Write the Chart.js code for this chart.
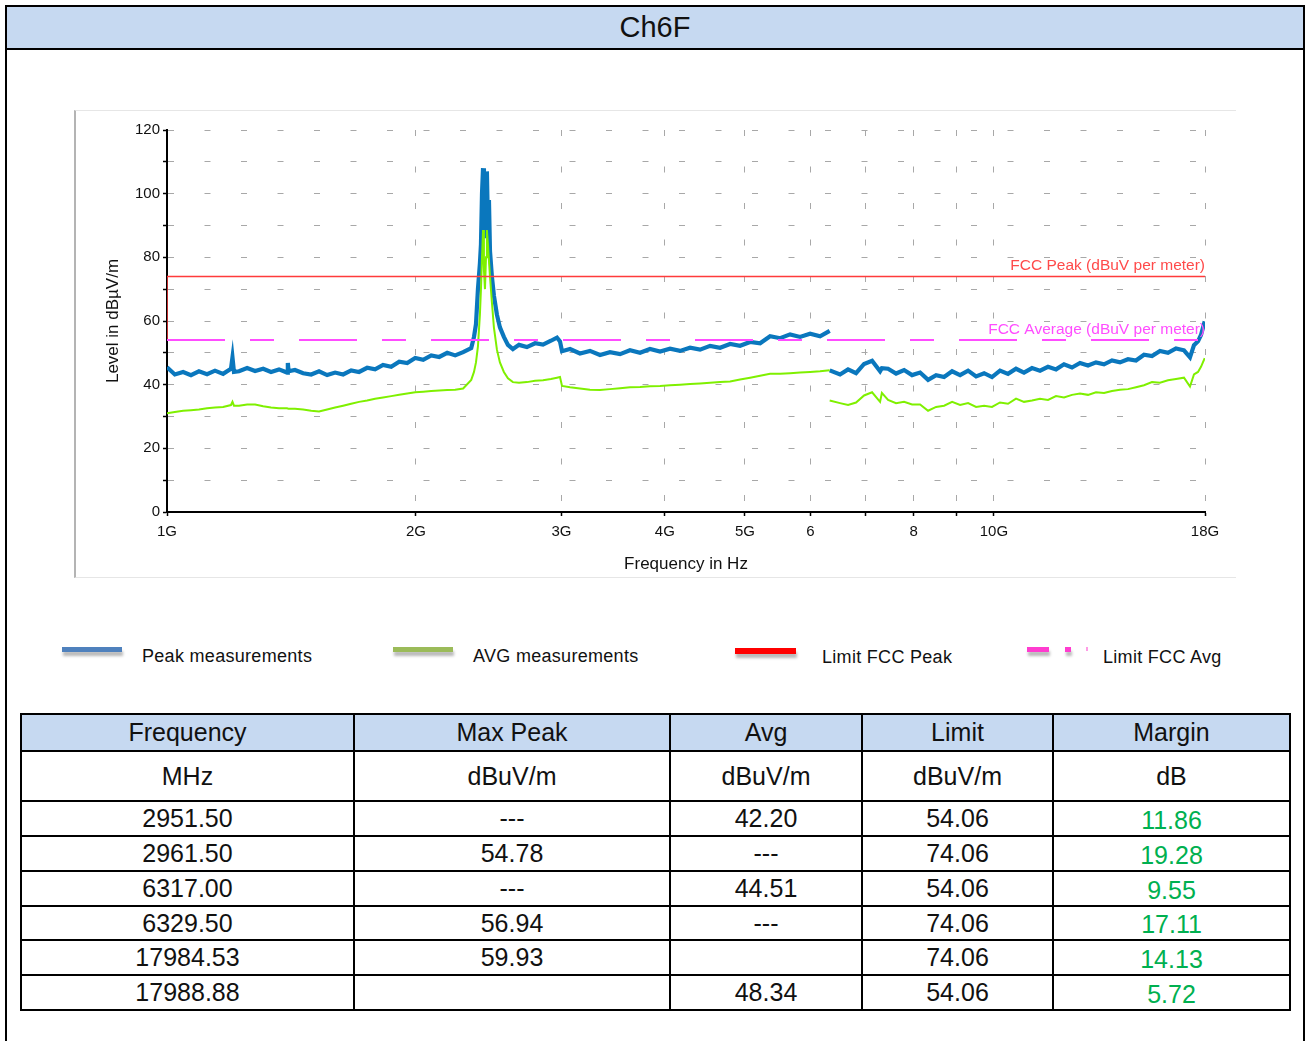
<!DOCTYPE html>
<html>
<head>
<meta charset="utf-8">
<script src="https://cdn.jsdelivr.net/npm/chart.js@4.4.1/dist/chart.umd.min.js"></script>
<style>
body { margin:0; background:#fff; font-family:'Liberation Sans', Arial, sans-serif; color:#111; }
.frame { position:absolute; left:5px; top:5px; width:1296px; height:1100px; border:2px solid #000; border-bottom:none; }
.title { position:absolute; left:7px; top:7px; width:1296px; height:41px; background:#c6d9f1; border-bottom:2px solid #000; text-align:center; font-size:29px; line-height:41px; }
.panel { position:absolute; left:74px; top:110px; width:1160px; height:466px; border-left:2px solid #b4b4b4; border-top:1px solid #e6e6e6; border-bottom:1px solid #e6e6e6; }
#chart { position:absolute; left:74px; top:110px; }
.lg-line { position:absolute; height:5px; box-shadow:1px 4px 3px rgba(0,0,0,0.28); }
.lg-text { position:absolute; font-size:18px; letter-spacing:0.3px; line-height:20px; white-space:nowrap; color:#111; }
table { position:absolute; left:20px; top:713px; border-collapse:collapse; table-layout:fixed; width:1269px; font-size:25px; }
td { border:2px solid #000; text-align:center; padding:0; }
tr.head td { background:#c6d9f1; }
td.margin { color:#00b050; padding-top:3px; }
</style>
</head>
<body>
<div class="frame"></div>
<div class="title">Ch6F</div>
<div class="panel"></div>
<canvas id="chart" width="1162" height="468"></canvas>

<div class="lg-line" style="left:62px;top:647px;width:60px;background:#4f81bd;"></div>
<div class="lg-text" id="lg0" style="left:142px;top:646px;"></div>
<div class="lg-line" style="left:393px;top:647px;width:60px;background:#9bbb59;"></div>
<div class="lg-text" id="lg1" style="left:473px;top:646px;"></div>
<div class="lg-line" style="left:735px;top:648px;width:61px;height:6px;background:#ff0000;"></div>
<div class="lg-text" id="lg2" style="left:822px;top:647px;"></div>
<div class="lg-line" style="left:1027px;top:647px;width:22px;background:#ff3ccf;"></div>
<div class="lg-line" style="left:1065px;top:647px;width:6px;background:#ff3ccf;"></div>
<div class="lg-line" style="left:1086px;top:647px;width:2px;height:4px;background:#ff9ce6;box-shadow:none;"></div>
<div class="lg-text" id="lg3" style="left:1103px;top:647px;"></div>

<table id="results">
<colgroup><col style="width:333px"><col style="width:316px"><col style="width:192px"><col style="width:191px"><col style="width:237px"></colgroup>
<tbody></tbody>
</table>

<script>
// ---- data ----
// band 1: 1 - 6.33 GHz, frequencies in MHz
const bandAFreq = [
  1000, 1022, 1046, 1069, 1093, 1118, 1143, 1169, 1195, 1200,
  1205, 1222, 1250, 1278, 1307, 1336, 1366, 1397, 1400, 1403,
  1428, 1461, 1494, 1527, 1562, 1597, 1633, 1670, 1707, 1746,
  1785, 1825, 1867, 1909, 1952, 1996, 2041, 2087, 2134, 2182,
  2231, 2281, 2333, 2351, 2364, 2377, 2390, 2397, 2404, 2411,
  2417, 2424, 2431, 2437, 2444, 2451, 2458, 2471, 2485, 2506,
  2527, 2555, 2584, 2620, 2665, 2724, 2787, 2849, 2913, 2962,
  2987, 3004, 3072, 3158, 3247, 3339, 3433, 3531, 3630, 3733,
  3838, 3947, 4058, 4173, 4291, 4412, 4537, 4665, 4797, 4932,
  5072, 5215, 5362, 5514, 5669, 5829, 5994, 6163, 6330
];
const peakA = [
  45.5, 43.2, 44.0, 43.0, 44.2, 43.3, 44.4, 43.4, 45.0, 48.6,
  44.0, 44.2, 45.2, 44.3, 45.0, 44.0, 44.8, 43.8, 46.8, 44.2,
  44.6, 43.6, 43.2, 44.2, 43.0, 43.8, 43.2, 44.5, 44.0, 45.3,
  44.8, 46.2, 45.6, 47.2, 46.8, 48.4, 47.8, 49.2, 48.7, 50.0,
  49.2, 50.2, 51.5, 55.0, 59.0, 70.0, 78.0, 84.0, 100.0, 108.0,
  86.0, 96.0, 88.0, 107.0, 90.0, 98.0, 82.0, 74.0, 68.0, 62.0,
  58.0, 55.0, 52.5, 51.2, 52.5, 51.8, 53.0, 52.6, 53.8, 54.8,
  53.6, 50.5, 51.2, 49.8, 50.6, 49.3, 50.2, 49.6, 50.8, 50.0,
  51.2, 50.4, 51.3, 50.6, 51.6, 51.0, 52.2, 51.6, 52.8, 52.2,
  53.4, 53.0, 55.2, 54.6, 55.8, 55.0, 56.0, 55.2, 56.9
];
const avgA = [
  31.0, 31.4, 31.8, 32.0, 32.2, 32.6, 32.8, 33.0, 33.6, 34.6,
  33.4, 33.4, 33.8, 33.8, 33.2, 32.8, 32.6, 32.6, 32.6, 32.4,
  32.4, 32.2, 31.8, 31.6, 32.2, 32.8, 33.4, 34.0, 34.6, 35.0,
  35.6, 36.0, 36.4, 36.8, 37.2, 37.6, 37.8, 38.0, 38.2, 38.3,
  38.4, 38.8, 41.5, 44.0, 47.0, 52.0, 62.0, 70.0, 80.0, 88.6,
  76.0, 70.0, 80.0, 88.6, 84.0, 79.0, 74.0, 66.0, 58.0, 51.0,
  47.0, 44.0, 42.0, 40.8, 40.6, 40.8, 41.2, 41.4, 41.8, 42.2,
  42.4, 39.6, 39.2, 38.8, 38.4, 38.3, 38.6, 38.9, 39.2, 39.3,
  39.5, 39.6, 39.8, 40.0, 40.2, 40.4, 40.6, 40.8, 41.0, 41.6,
  42.2, 42.8, 43.4, 43.4, 43.6, 43.8, 44.0, 44.2, 44.5
];
// band 2: 6.33 - 18 GHz
const bandBFreq = [
  6330, 6515, 6662, 6812, 6966, 7123, 7283, 7320, 7447, 7615,
  7787, 7962, 8142, 8325, 8513, 8705, 8901, 9101, 9306, 9516,
  9731, 9947, 10171, 10400, 10635, 10874, 11119, 11370, 11626, 11888,
  12155, 12429, 12709, 12996, 13288, 13587, 13893, 14206, 14526, 14853,
  15188, 15530, 15879, 16237, 16603, 16977, 17263, 17456, 17652, 17800,
  17985
];
const peakB = [
  44.5, 43.2, 44.8, 43.6, 46.5, 47.5, 44.2, 45.2, 45.0, 43.5,
  44.6, 43.0, 43.8, 41.5, 43.0, 42.4, 44.2, 43.0, 44.4, 42.6,
  43.6, 42.4, 44.4, 43.4, 45.0, 43.8, 45.2, 44.4, 45.6, 44.8,
  46.4, 45.4, 46.8, 46.0, 47.0, 46.4, 47.6, 47.0, 48.0, 47.6,
  49.4, 49.0, 50.6, 50.0, 51.4, 50.8, 48.6, 52.4, 53.6, 55.6,
  59.9
];
const avgB = [
  35.0, 34.2, 33.6, 34.4, 36.6, 37.6, 34.6, 37.4, 35.2, 34.2,
  34.6, 33.8, 33.8, 31.8, 33.0, 33.4, 34.6, 33.6, 34.2, 33.0,
  33.4, 33.0, 34.4, 34.0, 35.6, 34.6, 35.0, 35.6, 35.2, 36.4,
  36.0, 36.8, 37.2, 36.8, 37.6, 37.4, 38.0, 38.4, 38.6, 39.2,
  39.8, 40.8, 40.6, 41.4, 41.8, 42.2, 39.4, 43.2, 44.0, 45.6,
  48.3
];

// limit lines
const limitPeakFreq = [1000, 1000, 18000];
const limitPeakLevel = [54, 74, 74];
const limitAvgFreq = [1000, 18000];
const limitAvgLevel = [54, 54];
const limitLabels = ['FCC Peak (dBuV per meter)', 'FCC Average (dBuV per meter)'];

// axis ticks
const xTickValues = [1000, 2000, 3000, 4000, 5000, 6000, 7000, 8000, 9000, 10000, 18000];
const xTickLabels = ['1G', '2G', '3G', '4G', '5G', '6', '', '8', '', '10G', '18G'];

const legendLabels = ['Peak measurements', 'AVG measurements', 'Limit FCC Peak', 'Limit FCC Avg'];

// results table
const tableHead = ['Frequency', 'Max Peak', 'Avg', 'Limit', 'Margin'];
const tableUnits = ['MHz', 'dBuV/m', 'dBuV/m', 'dBuV/m', 'dB'];
const tableFreq = ['2951.50', '2961.50', '6317.00', '6329.50', '17984.53', '17988.88'];
const tableMaxPeak = ['---', '54.78', '---', '56.94', '59.93', ''];
const tableAvg = ['42.20', '---', '44.51', '---', '', '48.34'];
const tableLimit = ['54.06', '74.06', '54.06', '74.06', '74.06', '54.06'];
const tableMargin = ['11.86', '19.28', '9.55', '17.11', '14.13', '5.72'];

// ---- helpers ----
function toPoints(freq, level) {
  return freq.map((f, i) => ({ x: f, y: level[i] }));
}
// two sweeps, not joined
const peakData = toPoints(bandAFreq, peakA).concat([{ x: 6331, y: null }], toPoints(bandBFreq, peakB));
const avgData = toPoints(bandAFreq, avgA).concat([{ x: 6331, y: null }], toPoints(bandBFreq, avgB));

const fontFamily = "'Liberation Sans', Arial, sans-serif";
Chart.defaults.font.family = fontFamily;

// text labels on the limit lines
const limitText = {
  id: 'limitText',
  afterDatasetsDraw(chart) {
    const { ctx, scales: { x, y } } = chart;
    ctx.save();
    ctx.font = '15.5px ' + fontFamily;
    ctx.textAlign = 'right';
    ctx.textBaseline = 'alphabetic';
    ctx.fillStyle = '#ff4a4a';
    ctx.fillText(limitLabels[0], x.getPixelForValue(18000), y.getPixelForValue(limitPeakLevel[2]) - 6);
    ctx.fillStyle = '#ff4dff';
    ctx.fillText(limitLabels[1], x.getPixelForValue(18000), y.getPixelForValue(limitAvgLevel[1]) - 6);
    ctx.restore();
  }
};

const gridDash = [6, 30.5];

const chart = new Chart(document.getElementById('chart').getContext('2d'), {
  type: 'line',
  data: {
    datasets: [
      { label: legendLabels[3], data: toPoints(limitAvgFreq, limitAvgLevel), borderColor: '#ff4dff', borderWidth: 2, borderDash: [58, 25, 24, 25] },
      { label: legendLabels[2], data: toPoints(limitPeakFreq, limitPeakLevel), borderColor: '#ff3b3b', borderWidth: 1.5 },
      { label: legendLabels[1], data: avgData, borderColor: '#7ff000', borderWidth: 2 },
      { label: legendLabels[0], data: peakData, borderColor: '#0a77bd', borderWidth: 4.2 },
    ]
  },
  options: {
    responsive: false,
    animation: false,
    layout: { padding: { left: 0, top: 20, right: 31, bottom: 0 } },
    elements: { point: { radius: 0 }, line: { tension: 0 } },
    plugins: { legend: { display: false }, tooltip: { enabled: false } },
    scales: {
      x: {
        type: 'logarithmic',
        min: 1000,
        max: 18000,
        afterBuildTicks: (s) => { s.ticks = xTickValues.map(v => ({ value: v })); },
        afterFit: (s) => { s.height = 66; },
        ticks: {
          autoSkip: false, maxRotation: 0, padding: 7, color: '#111',
          font: { size: 15 },
          callback: (v) => { const i = xTickValues.indexOf(v); return i < 0 ? '' : xTickLabels[i]; }
        },
        grid: { color: '#a8a8a8', lineWidth: 1, tickLength: 4, tickColor: '#000', tickWidth: 1.5 },
        border: { color: '#000', width: 2, dash: gridDash },
        title: { display: true, text: 'Frequency in Hz', color: '#111', font: { size: 17 }, padding: { top: 0, bottom: 3 } }
      },
      y: {
        min: 0,
        max: 120,
        afterFit: (s) => { s.width = 93; },
        ticks: {
          stepSize: 10, padding: 3, color: '#111',
          font: { size: 15 },
          callback: (v) => (v % 20 === 0 ? v : '')
        },
        grid: { color: '#a8a8a8', lineWidth: 1, tickLength: 4, tickColor: '#000', tickWidth: 1.5 },
        border: { color: '#000', width: 2, dash: gridDash },
        title: { display: true, text: 'Level in dBµV/m', color: '#111', font: { size: 17 }, padding: { top: 29, bottom: 0 } }
      }
    }
  },
  plugins: [limitText]
});

// legend text
legendLabels.forEach((t, i) => { document.getElementById('lg' + i).textContent = t; });

// table
const tbody = document.querySelector('#results tbody');
function addRow(cells, cls, height) {
  const tr = document.createElement('tr');
  if (cls) tr.className = cls;
  tr.style.height = height + 'px';
  cells.forEach((c, i) => {
    const td = document.createElement('td');
    td.textContent = c;
    if (i === 4 && cls === 'data') td.className = 'margin';
    tr.appendChild(td);
  });
  tbody.appendChild(tr);
}
addRow(tableHead, 'head', 37);
addRow(tableUnits, '', 50);
const rowHeights = [35, 35, 35, 34, 35, 35];
tableFreq.forEach((f, i) => {
  addRow([f, tableMaxPeak[i], tableAvg[i], tableLimit[i], tableMargin[i]], 'data', rowHeights[i]);
});
</script>
</body>
</html>
